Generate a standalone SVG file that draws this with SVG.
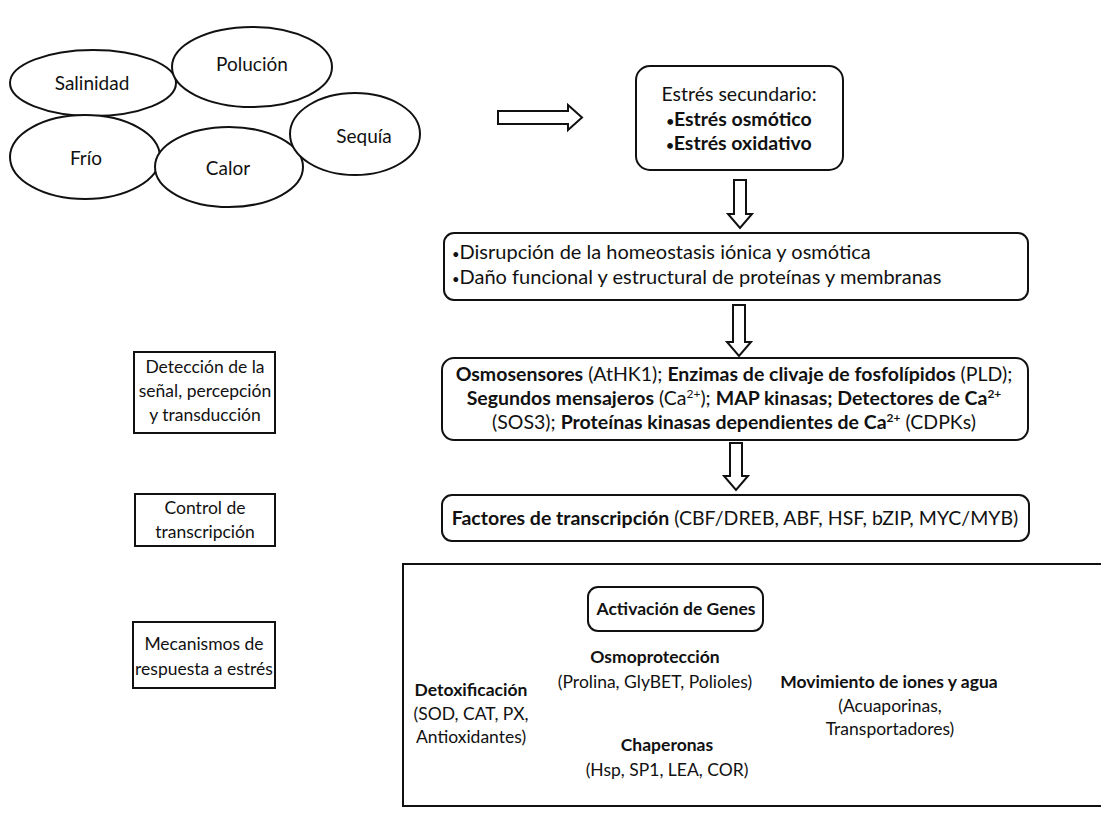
<svg xmlns="http://www.w3.org/2000/svg" width="1101" height="817" viewBox="0 0 1101 817">
<style>
text{font-family:Lato,"Open Sans","Liberation Sans",sans-serif;fill:#111;font-size:17.5px}
.b{font-weight:bold}
.c{text-anchor:middle}
.e{font-size:19px}
.m{font-size:19.5px}
.d{font-size:20px}
.l{font-size:17.5px}
.bu{font-size:13px}
.sh{fill:#fff;stroke:#111;stroke-width:2}
.ar{fill:#fff;stroke:#111;stroke-width:2;stroke-linejoin:miter}
.sup{font-size:12px}
</style>
<rect width="1101" height="817" fill="#fff"/>
<g id="salinidad"><ellipse class="sh" cx="93" cy="83" rx="83" ry="33"/><text class="c e" x="92" y="90">Salinidad</text></g>
<g id="polucion"><ellipse class="sh" cx="252" cy="67" rx="80" ry="40"/><text class="c e" x="252" y="71">Polución</text></g>
<g id="frio"><ellipse class="sh" cx="85" cy="157" rx="75" ry="42"/><text class="c e" x="86" y="165">Frío</text></g>
<g id="calor"><ellipse class="sh" cx="229" cy="167" rx="74" ry="40"/><text class="c e" x="228" y="175">Calor</text></g>
<g id="sequia"><ellipse class="sh" cx="355" cy="134" rx="65" ry="41"/><text class="c e" x="364" y="143">Sequía</text></g>

<g id="connectors">
<path class="ar" d="M498 111 H568 V105 L582 117.5 L568 130 V124 H498 Z"/>
<path class="ar" d="M734 180 H746 V214 H752 L740 228 L728 214 H734 Z"/>
<path class="ar" d="M733 305 H745 V342 H751 L739 356 L727 342 H733 Z"/>
<path class="ar" d="M730 443 H742 V476 H748 L736 490 L724 476 H730 Z"/>
</g>

<g id="estres-secundario"><rect class="sh" x="636" y="66" width="207" height="104" rx="14"/>
<text class="c m" x="739" y="101">Estrés secundario:</text>
<text class="c b m" x="739" y="126"><tspan class="bu">•</tspan>Estrés osmótico</text>
<text class="c b m" x="739" y="150"><tspan class="bu">•</tspan>Estrés oxidativo</text></g>

<g id="disrupcion"><rect class="sh" x="444" y="233" width="584" height="67" rx="10"/>
<text class="d" x="452" y="259"><tspan class="bu">•</tspan>Disrupción de la homeostasis iónica y osmótica</text>
<text class="d" x="452" y="284"><tspan class="bu">•</tspan>Daño funcional y estructural de proteínas y membranas</text></g>

<g id="osmosensores"><rect class="sh" x="442" y="358" width="586" height="82" rx="12"/>
<text class="c m" x="734" y="381"><tspan class="b">Osmosensores</tspan> (AtHK1); <tspan class="b">Enzimas de clivaje de fosfolípidos</tspan> (PLD);</text>
<text class="c m" x="734" y="405"><tspan class="b">Segundos mensajeros</tspan> (Ca<tspan class="sup" dy="-7">2+</tspan><tspan dy="7">); </tspan><tspan class="b">MAP kinasas; Detectores de Ca</tspan><tspan class="sup b" dy="-7">2+</tspan></text>
<text class="c m" x="734" y="429">(SOS3); <tspan class="b">Proteínas kinasas dependientes de Ca</tspan><tspan class="sup b" dy="-7">2+</tspan><tspan dy="7"> (CDPKs)</tspan></text></g>

<g id="factores"><rect class="sh" x="442" y="495" width="587" height="46" rx="10"/>
<text class="c m" x="735" y="525"><tspan class="b">Factores de transcripción</tspan> (CBF/DREB, ABF, HSF, bZIP, MYC/MYB)</text></g>

<g id="deteccion"><rect class="sh" x="134" y="352" width="141" height="81"/>
<text class="c l" x="205" y="373">Detección de la</text>
<text class="c l" x="205" y="397">señal, percepción</text>
<text class="c l" x="205" y="421">y transducción</text></g>

<g id="control"><rect class="sh" x="135" y="494" width="140" height="52"/>
<text class="c l" x="205" y="514">Control de</text>
<text class="c l" x="205" y="538">transcripción</text></g>

<g id="mecanismos"><rect class="sh" x="133" y="622" width="142" height="66"/>
<text class="c l" x="204" y="650">Mecanismos de</text>
<text class="c l" x="204" y="675">respuesta a estrés</text></g>

<g id="respuesta"><rect class="sh" x="403" y="564" width="710" height="242"/>
<g id="activacion"><rect class="sh" x="588" y="587" width="175" height="44" rx="10"/>
<text class="c b" x="676" y="615">Activación de Genes</text></g>
<text class="c b" x="471" y="696">Detoxificación</text>
<text class="c" x="471" y="720">(SOD, CAT, PX,</text>
<text class="c" x="471" y="743">Antioxidantes)</text>
<text class="c b" x="655" y="663">Osmoprotección</text>
<text class="c" x="655" y="688">(Prolina, GlyBET, Polioles)</text>
<text class="c b" x="889" y="688">Movimiento de iones y agua</text>
<text class="c" x="890" y="712">(Acuaporinas,</text>
<text class="c" x="890" y="735">Transportadores)</text>
<text class="c b" x="667" y="751">Chaperonas</text>
<text class="c" x="667" y="776">(Hsp, SP1, LEA, COR)</text></g>
</svg>
